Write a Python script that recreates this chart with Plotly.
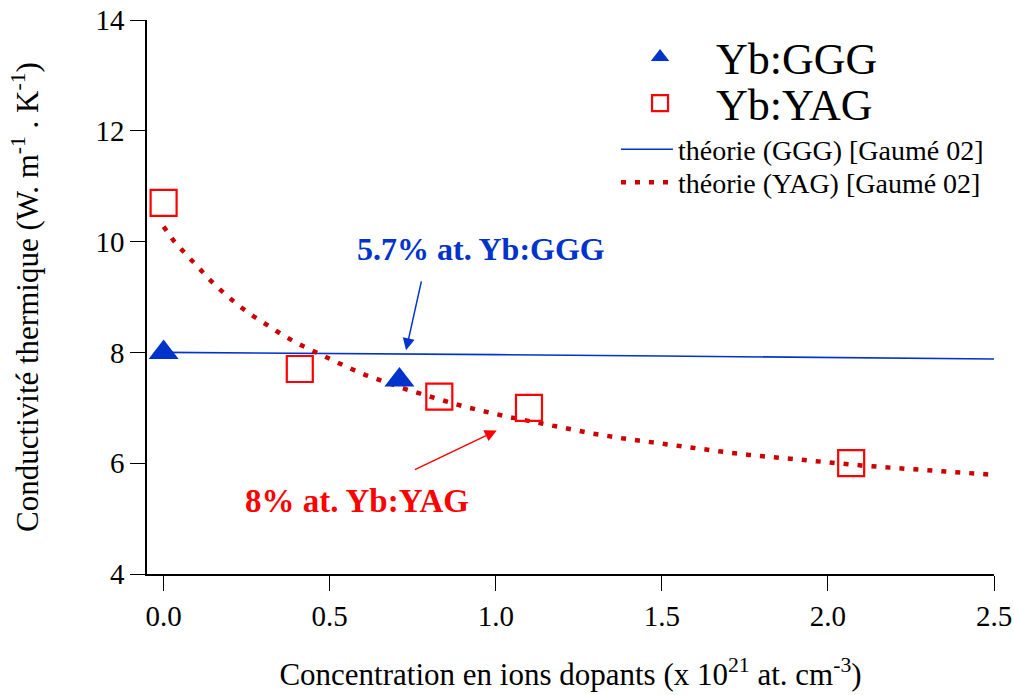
import plotly.graph_objects as go

# ---- data ----
ggg_x = [0.0, 0.71]
ggg_y = [8.0, 7.5]

yag_x = [0.0, 0.41, 0.83, 1.10, 2.07]
yag_y = [10.7, 7.7, 7.2, 7.0, 6.0]

theo_ggg_x = [0.0, 0.5, 1.0, 1.5, 2.0, 2.5]
theo_ggg_y = [8.0, 7.985, 7.96, 7.935, 7.91, 7.88]

theo_yag_x = [0.0, 0.031, 0.066, 0.103, 0.144, 0.187, 0.227, 0.271, 0.313, 0.357,
              0.40, 0.44, 0.483, 0.526, 0.566, 0.608, 0.651, 0.732, 0.82, 0.906,
              1.034, 1.117, 1.202, 1.287, 1.38, 1.508, 1.594, 1.678, 1.762, 1.846,
              1.931, 2.016, 2.10, 2.186, 2.27, 2.355, 2.44, 2.5]
theo_yag_y = [10.27, 10.01, 9.78, 9.53, 9.28, 9.04, 8.84, 8.65, 8.48, 8.32,
              8.17, 8.05, 7.93, 7.81, 7.70, 7.59, 7.50, 7.33, 7.17, 7.02,
              6.84, 6.74, 6.63, 6.54, 6.45, 6.34, 6.27, 6.21, 6.15, 6.10,
              6.05, 6.00, 5.96, 5.92, 5.88, 5.85, 5.81, 5.79]

x_ticks = [0.0, 0.5, 1.0, 1.5, 2.0, 2.5]
x_tick_labels = ["0.0", "0.5", "1.0", "1.5", "2.0", "2.5"]
y_ticks = [4, 6, 8, 10, 12, 14]

BLUE = "#0033cc"
RED = "#ff0000"
DARKRED = "#cc0000"
FONT = "Liberation Serif"

fig = go.Figure()

fig.add_trace(go.Scatter(
    x=theo_ggg_x, y=theo_ggg_y, mode="lines", name="théorie (GGG) [Gaumé 02]",
    line=dict(color=BLUE, width=1.6), legend="legend3"))
fig.add_trace(go.Scatter(
    x=theo_yag_x, y=theo_yag_y, mode="lines", name="théorie (YAG) [Gaumé 02]",
    line=dict(color=DARKRED, width=4.5, dash="5px,9px"), legend="legend4"))
fig.add_trace(go.Scatter(
    x=ggg_x, y=ggg_y, mode="markers", name="Yb:GGG",
    marker=dict(symbol="triangle-up", size=26, color=BLUE, line=dict(width=0)),
    legend="legend", showlegend=True))
fig.add_trace(go.Scatter(
    x=yag_x, y=yag_y, mode="markers", name="Yb:YAG",
    marker=dict(symbol="square-open", size=26, color=RED, line=dict(width=2.2, color=RED)),
    legend="legend2"))

# text annotations
fig.add_annotation(x=0.956, y=9.87, xref="x", yref="y", text="<b>5.7% at. Yb:GGG</b>",
                   showarrow=False, font=dict(family=FONT, size=32, color=BLUE))
fig.add_annotation(x=0.582, y=5.31, xref="x", yref="y", text="<b>8% at. Yb:YAG</b>",
                   showarrow=False, font=dict(family=FONT, size=33, color=RED))
# arrows
fig.add_annotation(x=0.73, y=8.04, ax=0.777, ay=9.31, xref="x", yref="y", axref="x", ayref="y",
                   text="", showarrow=True, arrowhead=2, arrowsize=1.6, arrowwidth=1.5,
                   arrowcolor=BLUE)
fig.add_annotation(x=1.003, y=6.59, ax=0.752, ay=5.87, xref="x", yref="y", axref="x", ayref="y",
                   text="", showarrow=True, arrowhead=2, arrowsize=1.6, arrowwidth=1.5,
                   arrowcolor=RED)

big_leg = dict(xanchor="left", yanchor="top", font=dict(family=FONT, size=44, color="black"),
               bgcolor="rgba(0,0,0,0)", itemwidth=102)
small_leg = dict(xanchor="left", yanchor="top", font=dict(family=FONT, size=28, color="black"),
                 bgcolor="rgba(0,0,0,0)", itemwidth=52)

fig.update_layout(
    width=1014, height=695,
    margin=dict(l=147, r=20, t=20, b=121, autoexpand=False),
    paper_bgcolor="white", plot_bgcolor="white",
    showlegend=True,
    font=dict(family=FONT, size=28, color="black"),
    legend=dict(x=0.5396, y=0.9964, **big_leg),
    legend2=dict(x=0.5396, y=0.9134, **big_leg),
    legend3=dict(x=0.5537, y=0.8114, **small_leg),
    legend4=dict(x=0.5537, y=0.7518, **small_leg),
    xaxis=dict(range=[-0.05, 2.5], tickmode="array", tickvals=x_ticks, ticktext=x_tick_labels,
               showgrid=False, zeroline=False, showline=True, linecolor="black", linewidth=1.5,
               ticks="outside", ticklen=15, tickwidth=1.3, tickcolor="black",
               tickfont=dict(family=FONT, size=29), automargin=False, ticklabeloverflow="allow",
               title=dict(text="Concentration en ions dopants (x 10<sup>21</sup> at. cm<sup>-3</sup>)",
                          font=dict(family=FONT, size=31), standoff=33)),
    yaxis=dict(range=[4, 14], tickmode="array", tickvals=y_ticks,
               showgrid=False, zeroline=False, showline=True, linecolor="black", linewidth=1.5,
               ticks="outside", ticklen=15, tickwidth=1.3, tickcolor="black",
               tickfont=dict(family=FONT, size=29), automargin=False, ticklabeloverflow="allow",
               title=dict(text="Conductivité thermique (W. m<sup>-1</sup> . K<sup>-1</sup>)",
                          font=dict(family=FONT, size=31), standoff=48)),
)

fig.write_html("out.html", config={"displayModeBar": False},
               post_script="document.body.style.margin='0px';document.body.style.overflow='hidden';")
